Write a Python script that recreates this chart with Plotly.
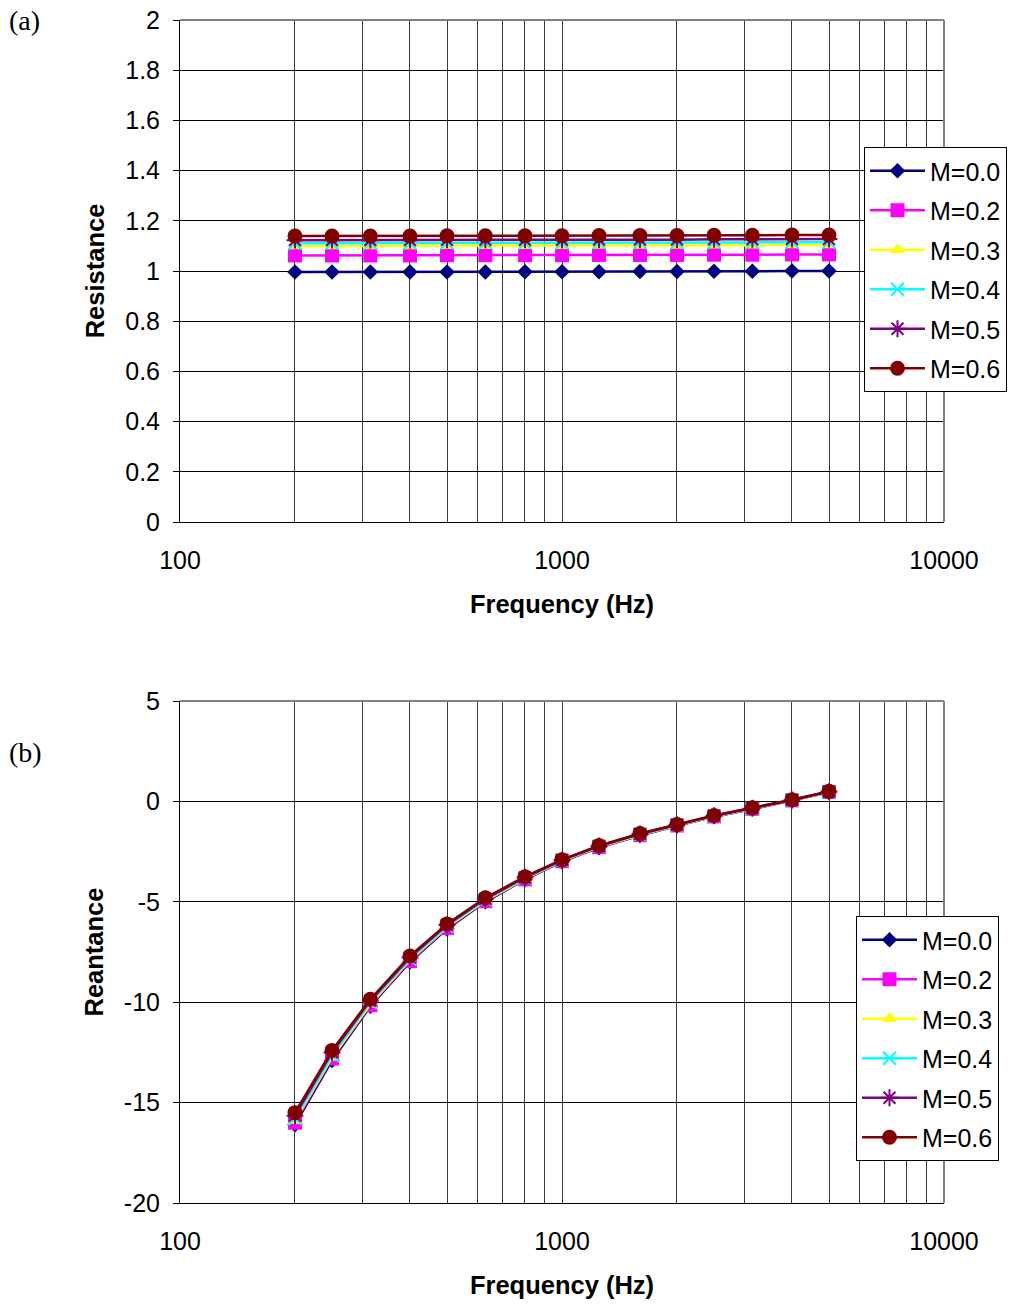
import plotly.graph_objects as go

# One-third-octave centre frequencies (Hz)
freq = [200, 250, 315, 400, 500, 630, 800, 1000, 1250, 1600, 2000, 2500, 3150, 4000, 5000]

labels = ["M=0.0", "M=0.2", "M=0.3", "M=0.4", "M=0.5", "M=0.6"]

# Normalised resistance
res_m00 = [0.996, 0.996, 0.996, 0.996, 0.996, 0.996, 0.997, 0.997, 0.997, 0.998, 0.998, 0.999, 0.999, 1.000, 1.000]
res_m02 = [1.062, 1.062, 1.062, 1.062, 1.063, 1.063, 1.063, 1.063, 1.064, 1.064, 1.064, 1.065, 1.065, 1.066, 1.066]
res_m03 = [1.100, 1.100, 1.100, 1.100, 1.101, 1.101, 1.101, 1.101, 1.102, 1.102, 1.102, 1.103, 1.103, 1.104, 1.104]
res_m04 = [1.111, 1.111, 1.111, 1.111, 1.112, 1.112, 1.112, 1.112, 1.113, 1.113, 1.113, 1.114, 1.114, 1.115, 1.115]
res_m05 = [1.123, 1.123, 1.123, 1.123, 1.124, 1.124, 1.124, 1.124, 1.125, 1.125, 1.125, 1.126, 1.126, 1.127, 1.127]
res_m06 = [1.139, 1.139, 1.139, 1.139, 1.140, 1.140, 1.140, 1.140, 1.141, 1.141, 1.141, 1.142, 1.142, 1.143, 1.143]

# Normalised reactance
rea_m00 = [-16.1, -12.9, -10.2, -8.0, -6.35, -5.0, -3.9, -3.0, -2.3, -1.7, -1.22, -0.76, -0.38, 0.04, 0.46]
rea_m02 = [-16.0, -12.8, -10.15, -7.95, -6.3, -4.97, -3.88, -2.98, -2.28, -1.68, -1.2, -0.75, -0.37, 0.05, 0.47]
rea_m03 = [-15.9, -12.75, -10.1, -7.9, -6.27, -4.94, -3.86, -2.96, -2.26, -1.67, -1.19, -0.74, -0.36, 0.05, 0.47]
rea_m04 = [-15.8, -12.65, -10.0, -7.85, -6.22, -4.9, -3.83, -2.94, -2.24, -1.65, -1.18, -0.73, -0.35, 0.06, 0.48]
rea_m05 = [-15.65, -12.5, -9.92, -7.77, -6.15, -4.85, -3.79, -2.92, -2.22, -1.62, -1.16, -0.71, -0.33, 0.07, 0.49]
rea_m06 = [-15.5, -12.4, -9.85, -7.7, -6.1, -4.8, -3.75, -2.9, -2.2, -1.6, -1.15, -0.7, -0.32, 0.08, 0.5]

# Log-axis grid positions and their labels
x_tickvals = [100, 200, 300, 400, 500, 600, 700, 800, 900,
              1000, 2000, 3000, 4000, 5000, 6000, 7000, 8000, 9000, 10000]
x_ticktext = ["100", "", "", "", "", "", "", "", "",
              "1000", "", "", "", "", "", "", "", "", "10000"]

# Y tick labels
res_tickvals = [0, 0.2, 0.4, 0.6, 0.8, 1.0, 1.2, 1.4, 1.6, 1.8, 2.0]
res_ticktext = ["0", "0.2", "0.4", "0.6", "0.8", "1", "1.2", "1.4", "1.6", "1.8", "2"]
rea_tickvals = [-20, -15, -10, -5, 0, 5]
rea_ticktext = ["-20", "-15", "-10", "-5", "0", "5"]

res_series = [res_m00, res_m02, res_m03, res_m04, res_m05, res_m06]
rea_series = [rea_m00, rea_m02, rea_m03, rea_m04, rea_m05, rea_m06]

colors = ["#000080", "#FF00FF", "#FFFF00", "#00FFFF", "#800080", "#800000"]
symbols = ["diamond", "square", "triangle-up", "x-thin-open", "asterisk-open", "circle"]
sizes = [12, 14, 13, 13, 14, 15]

W, H = 1011, 1304
FONT = "Liberation Sans, Arial, sans-serif"
TICK_SIZE = 25
TITLE_SIZE = 25.5


def px_x(p):
    return p / W


def px_y(p):
    return 1 - p / H


def marker(i):
    return dict(symbol=symbols[i], size=sizes[i], color=colors[i],
                line=dict(color=colors[i], width=2 if "open" in symbols[i] else 0))


fig = go.Figure()

for i, lab in enumerate(labels):
    fig.add_trace(go.Scatter(x=freq, y=res_series[i], name=lab, mode="lines+markers",
                             line=dict(color=colors[i], width=2.5), marker=marker(i),
                             legendgroup="a" + lab, xaxis="x", yaxis="y", legend="legend"))
for i, lab in enumerate(labels):
    fig.add_trace(go.Scatter(x=freq, y=rea_series[i], name=lab, mode="lines+markers",
                             line=dict(color=colors[i], width=2.5), marker=marker(i),
                             legendgroup="b" + lab, xaxis="x2", yaxis="y2", legend="legend2"))

xaxis_common = dict(
    type="log", range=[2, 4], tickmode="array", tickvals=x_tickvals, ticktext=x_ticktext,
    showgrid=True, gridcolor="#3a3a3a", gridwidth=1,
    showline=True, linecolor="#000000", linewidth=1, mirror=False,
    ticks="", ticklabelstandoff=16,
    tickfont=dict(family=FONT, size=TICK_SIZE, color="#000"),
    zeroline=False,
)
yaxis_common = dict(
    tickmode="array",
    showgrid=True, gridcolor="#000000", gridwidth=1,
    showline=True, linecolor="#000000", linewidth=1,
    ticks="outside", ticklen=6, tickcolor="#000", ticklabelstandoff=8,
    tickfont=dict(family=FONT, size=TICK_SIZE, color="#000"),
    zeroline=False,
)
legend_common = dict(
    xanchor="left", yanchor="top",
    bgcolor="white", bordercolor="#000", borderwidth=1,
    font=dict(family=FONT, size=25, color="#000"),
    tracegroupgap=4, itemwidth=55,
)

fig.update_layout(
    width=W, height=H,
    margin=dict(l=0, r=0, t=0, b=0, pad=0, autoexpand=False),
    paper_bgcolor="white", plot_bgcolor="white",
    font=dict(family=FONT, color="#000"),
    xaxis=dict(xaxis_common, domain=[px_x(180), px_x(944)], anchor="y",
               title=dict(text="<b>Frequency (Hz)</b>", font=dict(family=FONT, size=TITLE_SIZE), standoff=22)),
    yaxis=dict(yaxis_common, domain=[px_y(522), px_y(20)], anchor="x",
               range=[0, 2], tickvals=res_tickvals, ticktext=res_ticktext,
               title=dict(text="<b>Resistance</b>", font=dict(family=FONT, size=TITLE_SIZE), standoff=13)),
    xaxis2=dict(xaxis_common, domain=[px_x(180), px_x(944)], anchor="y2",
                title=dict(text="<b>Frequency (Hz)</b>", font=dict(family=FONT, size=TITLE_SIZE), standoff=22)),
    yaxis2=dict(yaxis_common, domain=[px_y(1203), px_y(701)], anchor="x2",
                range=[-20, 5], tickvals=rea_tickvals, ticktext=rea_ticktext,
                title=dict(text="<b>Reantance</b>", font=dict(family=FONT, size=TITLE_SIZE), standoff=12)),
    legend=dict(legend_common, x=px_x(864), y=px_y(147)),
    legend2=dict(legend_common, x=px_x(856), y=px_y(916)),
    showlegend=True,
)

# Panel border on the top and right sides
for y_lo, y_hi in [(px_y(522), px_y(20)), (px_y(1203), px_y(701))]:
    fig.add_shape(type="line", xref="paper", yref="paper",
                  x0=px_x(180), x1=px_x(944), y0=y_hi, y1=y_hi,
                  line=dict(color="#808080", width=2))
    fig.add_shape(type="line", xref="paper", yref="paper",
                  x0=px_x(944), x1=px_x(944), y0=y_lo, y1=y_hi,
                  line=dict(color="#808080", width=2))

fig.add_annotation(text="(a)", xref="paper", yref="paper", x=px_x(7), y=px_y(20),
                   xanchor="left", yanchor="middle", showarrow=False,
                   font=dict(family="Liberation Serif, Times New Roman, serif", size=28, color="#000"))
fig.add_annotation(text="(b)", xref="paper", yref="paper", x=px_x(7), y=px_y(752),
                   xanchor="left", yanchor="middle", showarrow=False,
                   font=dict(family="Liberation Serif, Times New Roman, serif", size=28, color="#000"))

fig.write_html("out.html")
